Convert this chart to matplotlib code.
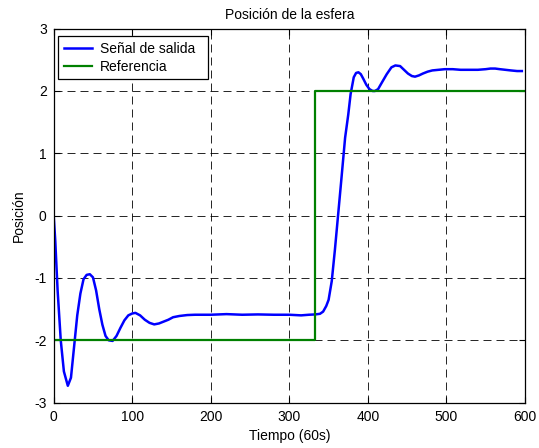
import matplotlib
matplotlib.use("Agg")
import matplotlib.pyplot as plt
import numpy as np

plt.rcParams['font.family'] = ['Liberation Sans', 'DejaVu Sans']
plt.rcParams['axes.unicode_minus'] = False

# Ball position response (time in units of 60 s)
t_out = [0, 2, 5, 9, 13, 18, 22, 26, 30, 34, 38, 42, 46, 50, 54, 58, 62, 66, 70,
         75, 80, 85, 90, 95, 100, 104, 110, 116, 122, 128, 134, 140, 146, 152,
         160, 170, 180, 200, 220, 240, 260, 280, 300, 315, 325, 333, 339, 343,
         347, 350, 354, 358, 362, 366, 371, 375, 378, 382, 385, 388, 391, 394,
         398, 402, 406, 409, 413, 418, 424, 430, 435, 441, 446, 451, 456, 460,
         465, 470, 476, 482, 490, 498, 508, 518, 530, 540, 550, 556, 562, 568,
         575, 582, 590, 596]
y_out = [0.0, -0.4, -1.2, -2.0, -2.5, -2.73, -2.6, -2.1, -1.6, -1.25, -1.02,
         -0.95, -0.94, -0.99, -1.2, -1.5, -1.75, -1.93, -2.0, -2.01, -1.93,
         -1.8, -1.68, -1.6, -1.57, -1.56, -1.6, -1.67, -1.72, -1.745, -1.73,
         -1.7, -1.67, -1.63, -1.61, -1.595, -1.59, -1.59, -1.58, -1.59, -1.585,
         -1.59, -1.59, -1.6, -1.59, -1.585, -1.575, -1.54, -1.45, -1.35, -1.05,
         -0.55, 0.0, 0.55, 1.25, 1.62, 1.95, 2.22, 2.29, 2.3, 2.27, 2.2, 2.1,
         2.03, 2.0, 2.0, 2.03, 2.14, 2.27, 2.38, 2.41, 2.4, 2.34, 2.28, 2.24,
         2.23, 2.25, 2.28, 2.31, 2.33, 2.34, 2.35, 2.35, 2.34, 2.34, 2.34, 2.35,
         2.36, 2.36, 2.35, 2.34, 2.33, 2.32, 2.32]

# Reference step
t_ref = [0, 333, 333, 600]
y_ref = [-2, -2, 2, 2]

x_ticks = [0, 100, 200, 300, 400, 500, 600]
y_ticks = [-3, -2, -1, 0, 1, 2, 3]

fig = plt.figure(figsize=(5.39, 4.48), dpi=100)
ax = fig.add_axes([0.0996, 0.1013, 0.8744, 0.8347])

ax.plot(t_out, y_out, color='#0000ff', lw=1.8, label='Señal de salida')
ax.plot(t_ref, y_ref, color='#008000', lw=1.6, label='Referencia')

ax.set_xlim(0, 600)
ax.set_ylim(-3, 3)
ax.set_xticks(x_ticks)
ax.set_yticks(y_ticks)
ax.tick_params(direction='in', top=True, right=True, labelsize=10, length=4,
               width=0.8, pad=5)
ax.grid(True, color='black', linestyle=(0, (9.6, 6)), linewidth=0.6)
for s in ax.spines.values():
    s.set_linewidth(0.9)

ax.set_title('Posición de la esfera', fontsize=10, pad=7)
ax.set_xlabel('Tiempo (60s)', fontsize=10, labelpad=4)
ax.set_ylabel('Posición', fontsize=10, labelpad=6)

leg = ax.legend(loc='upper left', bbox_to_anchor=(0.0098, 0.5, 0.3185, 0.4805),
                mode='expand', borderaxespad=0, fontsize=10, frameon=True,
                fancybox=False, edgecolor='black', framealpha=1,
                handlelength=2.0, handletextpad=0.6, borderpad=0.4,
                labelspacing=0.3)
leg.get_frame().set_linewidth(0.9)

fig.savefig('out.png', dpi=100)
